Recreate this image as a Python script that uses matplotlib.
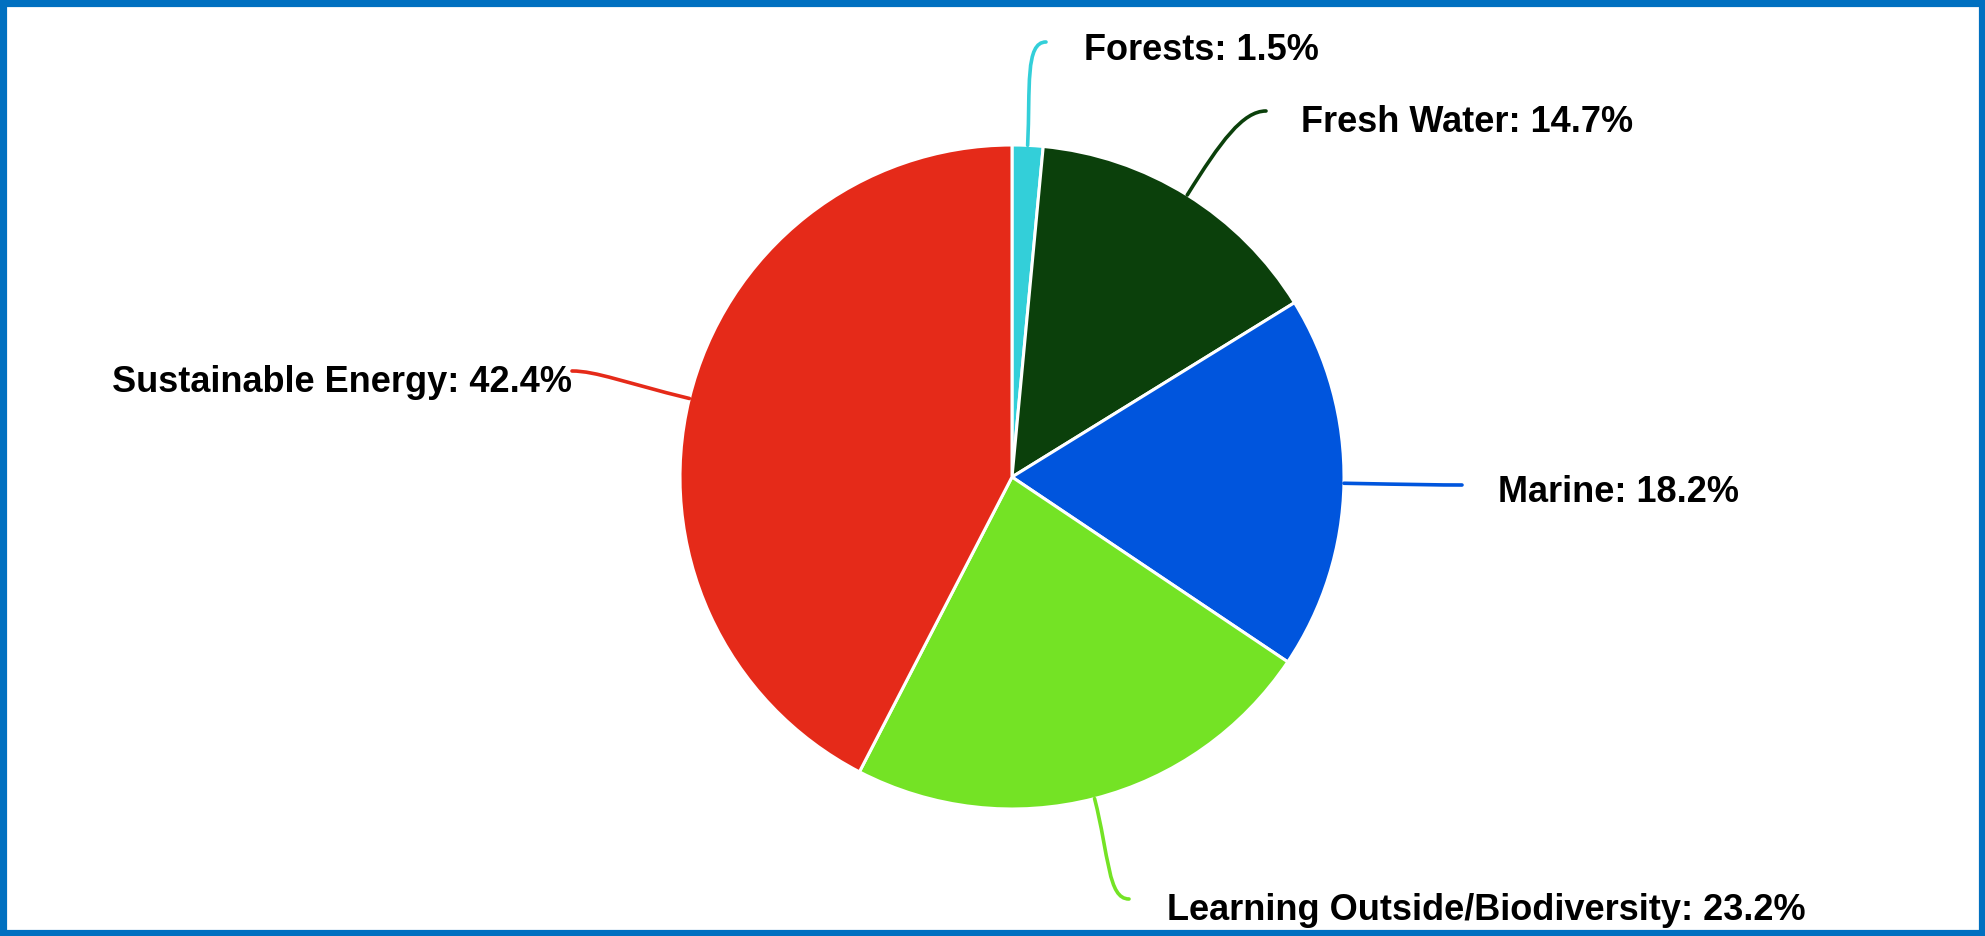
import numpy as np
import matplotlib
matplotlib.use("Agg")
import matplotlib.pyplot as plt
from matplotlib.patches import Rectangle
from matplotlib.path import Path
from matplotlib.patches import PathPatch

# slice data, clockwise from 12 o'clock
categories = ["Forests", "Fresh Water", "Marine",
              "Learning Outside/Biodiversity", "Sustainable Energy"]
shares = [1.5, 14.7, 18.2, 23.2, 42.4]
colors = ["#33CFD9", "#0B400B", "#0055DD", "#74E325", "#E52A19"]

# label layout (pixel coords, y measured from top)
label_pos = [(1084, 50), (1301, 122), (1498, 493), (1167, 911), (572, 383)]
label_ha = ["left", "left", "left", "left", "right"]
line_end = [(1046, 42), (1266, 111), (1462, 485), (1129, 899), (572, 371)]

W, H = 1985, 936
cx, cy, R = 1012, H - 477, 332

fig = plt.figure(figsize=(W / 100, H / 100), dpi=100)
ax = fig.add_axes([0, 0, 1, 1])

wedges, _ = ax.pie(shares, colors=colors, startangle=90, counterclock=False,
                   center=(cx, cy), radius=R,
                   wedgeprops=dict(edgecolor="white", linewidth=2.2))
# pie() resets the limits, so set them after
ax.set_xlim(0, W)
ax.set_ylim(0, H)
ax.set_aspect("equal")
ax.axis("off")

for w, cat, val, pos, ha, end in zip(wedges, categories, shares,
                                     label_pos, label_ha, line_end):
    ang = np.deg2rad((w.theta1 + w.theta2) / 2)
    u = np.array([np.cos(ang), np.sin(ang)])
    p0 = np.array([cx, cy]) + R * u
    p3 = np.array([end[0], H - end[1]])
    d = np.linalg.norm(p3 - p0)
    side = 1 if ha == "left" else -1
    p1 = p0 + u * d * 0.55
    p2 = p3 - np.array([side, 0]) * d * 0.2
    path = Path([p0, p1, p2, p3],
                [Path.MOVETO, Path.CURVE4, Path.CURVE4, Path.CURVE4])
    ax.add_patch(PathPatch(path, fill=False, edgecolor=w.get_facecolor(),
                           lw=2.6, capstyle="round"))
    ax.text(pos[0], H - pos[1], f"{cat}: {val}%", ha=ha, va="center",
            fontsize=26, fontweight="bold", family=["Liberation Sans", "DejaVu Sans"])

# blue frame round the picture
fig.patches.append(Rectangle((0, 0), 1, 1, transform=fig.transFigure,
                             fill=False, edgecolor="#0070C0", lw=9.5))

fig.savefig("out.png", dpi=100)
